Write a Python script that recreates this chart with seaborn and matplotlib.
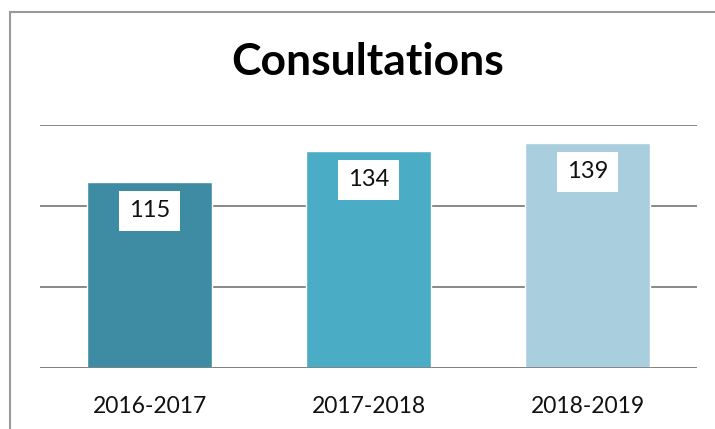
import matplotlib
matplotlib.use('Agg')
import matplotlib.pyplot as plt
import seaborn as sns
import pandas as pd
from matplotlib.patches import Rectangle


##### data
years = ['2016-2017', '2017-2018', '2018-2019']
consultations = [115, 134, 139]
bar_colors = ['#3E8CA4', '#4BACC6', '#A9CEDE']

df = pd.DataFrame({'Year': years, 'Consultations': consultations})

sns.set_style('white')
plt.rcParams['font.family'] = ['Lato', 'DejaVu Sans']

fig = plt.figure(figsize=(7.15, 4.29), dpi=100)
ax = fig.add_axes([40/715, 61/429, 657/715, 243/429])

sns.barplot(data=df, x='Year', y='Consultations', hue='Year', palette=bar_colors,
            saturation=1, width=0.575, legend=False, ax=ax, zorder=2)

ax.set_ylim(0, 150)
ax.set_yticks([0, 50, 100, 150])
ax.set_xlim(-0.5, 2.5)
ax.yaxis.grid(True, color='#888888', linewidth=1.4, zorder=0)
ax.set_axisbelow(True)
ax.axhline(0, color='#808080', linewidth=2, zorder=3)
for s in ax.spines.values():
    s.set_visible(False)
ax.set_yticklabels([])
ax.tick_params(axis='y', length=0)
ax.tick_params(axis='x', length=0, labelsize=16.5, pad=20, colors='#111111')
ax.set_xlabel('')
ax.set_ylabel('')

# value labels in white boxes
for i, v in enumerate(consultations):
    ax.annotate(str(v), xy=(i, v), xytext=(0, -29), textcoords='offset pixels',
                ha='center', va='center', fontsize=17, color='#111111',
                bbox=dict(boxstyle='square,pad=0.4', fc='white', ec='none'), zorder=4)

fig.text(368/715, 1 - 62/429, 'Consultations', ha='center', va='center',
         fontsize=32, fontweight='bold', color='black')

# chart border
fig.patches.append(Rectangle((10/715, -0.05), 1.1, 1 - 12/429 + 0.05,
                             transform=fig.transFigure, fill=False,
                             ec='#9a9a9a', lw=1.5))

fig.savefig('out.png', dpi=100)
